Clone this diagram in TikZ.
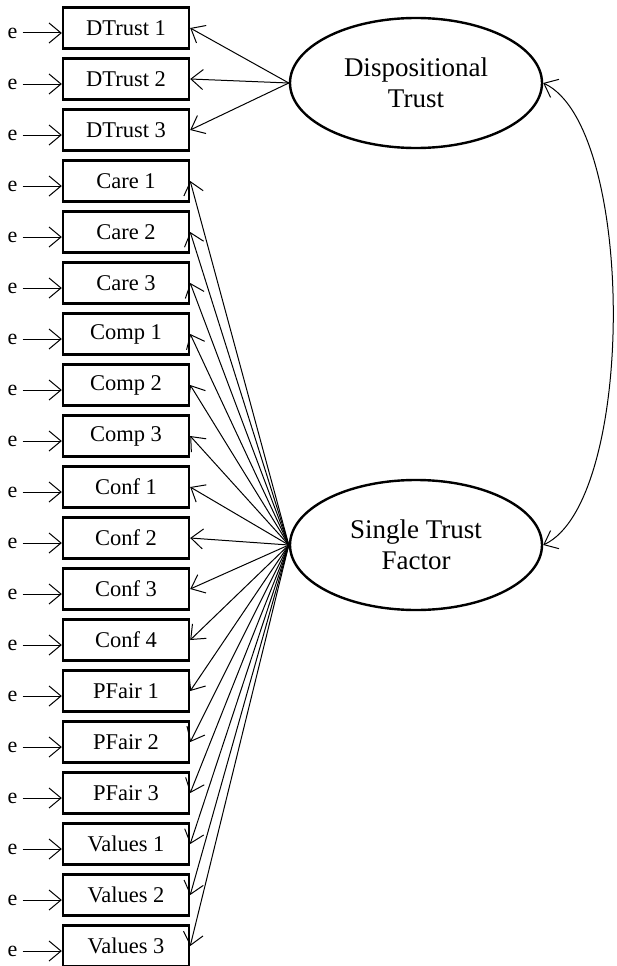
\documentclass[tikz,border=0pt]{standalone}
\usepackage{fontspec}
\setmainfont{Liberation Serif}
\usepackage{tikz}
\usetikzlibrary{shapes.geometric}
\usetikzlibrary{arrows.meta}
\tikzstyle{Item}=[rectangle,draw=black,line width=2.4pt,minimum width=126pt,
minimum height=41pt,inner sep=0pt,font=\fontsize{22.5}{27}\selectfont]
\tikzstyle{Latent}=[ellipse,draw=black,line width=2.4pt,minimum width=252pt,
minimum height=130pt,inner sep=0pt,align=center,
font=\fontsize{27}{31}\selectfont]
\tikzstyle{Err}=[inner sep=5pt,font=\fontsize{22}{26}\selectfont]
\tikzstyle{Edge}=[draw=black,line width=1pt,
arrows={-Straight Barb[length=12pt,width=20pt]}]
\tikzstyle{Cov}=[draw=black,line width=1pt,
arrows={Straight Barb[length=12pt,width=20pt]-Straight Barb[length=12pt,width=20pt]}]

\begin{document}
\begin{tikzpicture}[x=1pt,y=1pt]
            \useasboundingbox(0,0)rectangle(617,-966);
            \node[Latent](DT)at(416,-83){Dispositional\\Trust};
            \node[Latent](ST)at(416,-545){Single Trust\\Factor};
            %
            \node[Item](1)at(126,-28){DTrust 1};
            \node[Item](2)at(126,-79){DTrust 2};
            \node[Item](3)at(126,-130){DTrust 3};
            \node[Item](4)at(126,-181){Care 1};
            \node[Item](5)at(126,-232){Care 2};
            \node[Item](6)at(126,-283){Care 3};
            \node[Item](7)at(126,-334){Comp 1};
            \node[Item](8)at(126,-385){Comp 2};
            \node[Item](9)at(126,-436){Comp 3};
            \node[Item](10)at(126,-487){Conf 1};
            \node[Item](11)at(126,-538){Conf 2};
            \node[Item](12)at(126,-589){Conf 3};
            \node[Item](13)at(126,-640){Conf 4};
            \node[Item](14)at(126,-691){PFair 1};
            \node[Item](15)at(126,-742){PFair 2};
            \node[Item](16)at(126,-793){PFair 3};
            \node[Item](17)at(126,-844){Values 1};
            \node[Item](18)at(126,-895){Values 2};
            \node[Item](19)at(126,-946){Values 3};
            %
            \node[Err](e1)at(12.5,-33){e};
            \node[Err](e2)at(12.5,-84){e};
            \node[Err](e3)at(12.5,-135){e};
            \node[Err](e4)at(12.5,-186){e};
            \node[Err](e5)at(12.5,-237){e};
            \node[Err](e6)at(12.5,-288){e};
            \node[Err](e7)at(12.5,-339){e};
            \node[Err](e8)at(12.5,-390){e};
            \node[Err](e9)at(12.5,-441){e};
            \node[Err](e10)at(12.5,-492){e};
            \node[Err](e11)at(12.5,-543){e};
            \node[Err](e12)at(12.5,-594){e};
            \node[Err](e13)at(12.5,-645){e};
            \node[Err](e14)at(12.5,-696){e};
            \node[Err](e15)at(12.5,-747){e};
            \node[Err](e16)at(12.5,-798){e};
            \node[Err](e17)at(12.5,-849){e};
            \node[Err](e18)at(12.5,-900){e};
            \node[Err](e19)at(12.5,-951){e};
            %
            \draw[Edge](e1)--(e1-|1.west);
            \draw[Edge](e2)--(e2-|2.west);
            \draw[Edge](e3)--(e3-|3.west);
            \draw[Edge](e4)--(e4-|4.west);
            \draw[Edge](e5)--(e5-|5.west);
            \draw[Edge](e6)--(e6-|6.west);
            \draw[Edge](e7)--(e7-|7.west);
            \draw[Edge](e8)--(e8-|8.west);
            \draw[Edge](e9)--(e9-|9.west);
            \draw[Edge](e10)--(e10-|10.west);
            \draw[Edge](e11)--(e11-|11.west);
            \draw[Edge](e12)--(e12-|12.west);
            \draw[Edge](e13)--(e13-|13.west);
            \draw[Edge](e14)--(e14-|14.west);
            \draw[Edge](e15)--(e15-|15.west);
            \draw[Edge](e16)--(e16-|16.west);
            \draw[Edge](e17)--(e17-|17.west);
            \draw[Edge](e18)--(e18-|18.west);
            \draw[Edge](e19)--(e19-|19.west);
            %
            \draw[Edge](DT.west)--(1.east);
            \draw[Edge](DT.west)--(2.east);
            \draw[Edge](DT.west)--(3.east);
            \draw[Edge](ST.west)--(4.east);
            \draw[Edge](ST.west)--(5.east);
            \draw[Edge](ST.west)--(6.east);
            \draw[Edge](ST.west)--(7.east);
            \draw[Edge](ST.west)--(8.east);
            \draw[Edge](ST.west)--(9.east);
            \draw[Edge](ST.west)--(10.east);
            \draw[Edge](ST.west)--(11.east);
            \draw[Edge](ST.west)--(12.east);
            \draw[Edge](ST.west)--(13.east);
            \draw[Edge](ST.west)--(14.east);
            \draw[Edge](ST.west)--(15.east);
            \draw[Edge](ST.west)--(16.east);
            \draw[Edge](ST.west)--(17.east);
            \draw[Edge](ST.west)--(18.east);
            \draw[Edge](ST.west)--(19.east);
            %
            \draw[Cov](DT.east)to[out=-25,in=25,looseness=.57](ST.east);
        \end{tikzpicture}
\end{document}
